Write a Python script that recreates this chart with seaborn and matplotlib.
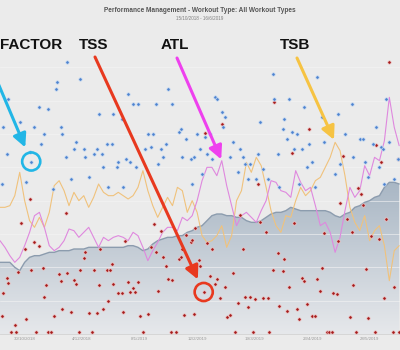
import numpy as np
import pandas as pd
import matplotlib
matplotlib.use("Agg")
import matplotlib.pyplot as plt
import seaborn as sns
from matplotlib.colors import LinearSegmentedColormap

# ---------------- data ----------------
title = "Performance Management - Workout Type: All Workout Types"
subtitle = "15/10/2018 - 16/6/2019"
start_date = "2018-10-15"

# fitness lines, sampled every 3 days from the start date
line_days = list(range(0, 244, 3))
ctl = [43, 43, 43, 40, 38, 43, 46, 47, 47, 48, 49, 49, 50, 50, 50, 51, 51, 51, 52, 52,
       52, 52, 52, 52, 52, 52, 53, 53, 52, 50, 51, 54, 56, 57, 58, 58, 59, 59, 61, 62,
       64, 65, 68, 71, 72, 72, 71, 71, 70, 70, 68, 67, 67, 68, 70, 72, 73, 73, 74, 76,
       75, 74, 74, 74, 74, 74, 74, 73, 71, 70, 72, 73, 76, 77, 79, 80, 82, 83, 88, 91,
       91, 90]
atl = [56, 52, 47, 43, 46, 53, 61, 71, 73, 64, 53, 50, 52, 56, 63, 62, 58, 61, 64, 58,
       52, 58, 56, 58, 59, 58, 56, 61, 59, 52, 44, 50, 55, 61, 64, 64, 62, 70, 68, 71,
       80, 92, 100, 100, 95, 104, 89, 77, 65, 71, 73, 70, 67, 74, 80, 92, 91, 86, 85, 82,
       98, 91, 86, 88, 77, 65, 67, 61, 49, 58, 74, 88, 82, 86, 101, 95, 106, 104, 116, 142,
       124, 113]
tsb = [76, 76, 77, 83, 97, 80, 68, 64, 70, 64, 73, 89, 92, 86, 77, 85, 80, 83, 76, 82,
       90, 85, 83, 83, 85, 83, 81, 83, 88, 98, 86, 77, 70, 76, 82, 77, 88, 86, 73, 80,
       73, 59, 55, 56, 59, 65, 52, 59, 80, 86, 103, 97, 106, 101, 88, 74, 65, 61, 71, 70,
       80, 88, 83, 86, 92, 94, 100, 106, 115, 110, 95, 76, 67, 62, 71, 56, 62, 65, 53, 32,
       50, 53]

# workouts: day offset, TSS
tss_day = [1, 2, 4, 5, 7, 9, 10, 11, 13, 15, 16, 18, 19, 21, 22, 24, 26, 27, 28, 29,
           31, 33, 36, 37, 38, 40, 41, 43, 45, 46, 48, 49, 51, 52, 54, 56, 57, 59, 60, 61,
           63, 65, 66, 67, 68, 69, 72, 74, 75, 76, 78, 79, 81, 82, 84, 85, 87, 90, 92, 94,
           95, 96, 98, 99, 101, 102, 104, 105, 107, 109, 110, 111, 112, 113, 116, 117, 118, 119, 121, 122,
           124, 125, 126, 128, 129, 131, 132, 134, 135, 137, 138, 140, 142, 143, 145, 146, 148, 149, 151, 152,
           154, 155, 157, 158, 160, 162, 163, 164, 166, 167, 169, 170, 172, 173, 175, 176, 178, 179, 181, 182,
           184, 185, 187, 188, 190, 192, 193, 195, 196, 197, 199, 200, 202, 203, 205, 206, 207, 209, 211, 213,
           214, 215, 217, 218, 220, 221, 223, 224, 226, 228, 229, 231, 232, 234, 235, 237, 239, 240, 242, 243]
tss = [18, 41, 56, 51, 2, 9, 2, 62, 111, 85, 15, 135, 64, 92, 2, 88, 66, 37, 49, 2,
       2, 18, 60, 53, 25, 121, 61, 22, 54, 50, 2, 64, 76, 82, 21, 2, 64, 21, 49, 85,
       25, 64, 33, 64, 70, 50, 41, 41, 22, 93, 52, 42, 46, 42, 52, 18, 2, 20, 87, 110,
       82, 43, 103, 77, 68, 55, 2, 54, 2, 75, 77, 85, 19, 99, 92, 94, 20, 106, 74, 68,
       42, 201, 91, 58, 85, 50, 55, 36, 210, 47, 17, 19, 61, 2, 31, 119, 85, 37, 27, 37,
       2, 35, 150, 112, 36, 102, 36, 2, 64, 232, 81, 28, 63, 75, 23, 47, 181, 111, 25, 15,
       56, 53, 30, 205, 18, 18, 55, 43, 66, 101, 2, 2, 2, 41, 40, 93, 131, 178, 115, 17,
       102, 49, 2, 146, 140, 129, 65, 16, 98, 2, 189, 95, 172, 36, 115, 272, 2, 47, 175, 2]

# workouts: day offset, intensity factor
if_day = [1, 2, 4, 5, 12, 16, 18, 19, 21, 24, 25, 27, 29, 32, 34, 35, 37, 38, 40, 41,
          43, 45, 46, 49, 51, 52, 54, 57, 59, 60, 62, 63, 65, 66, 68, 69, 71, 72, 74, 75,
          77, 78, 79, 81, 83, 84, 88, 90, 92, 93, 95, 96, 98, 99, 101, 102, 105, 109, 110, 111,
          113, 116, 117, 118, 120, 122, 123, 125, 126, 128, 129, 131, 132, 135, 136, 137, 140, 142, 145, 146,
          148, 149, 151, 152, 156, 157, 158, 160, 163, 166, 167, 169, 170, 172, 173, 175, 176, 178, 179, 181,
          182, 184, 185, 187, 188, 190, 192, 193, 196, 197, 204, 206, 207, 210, 214, 215, 219, 221, 222, 224,
          227, 229, 231, 232, 233, 234, 235, 237, 240, 242]
intensity = [0.60, 0.83, 0.72, 0.94, 0.85, 0.61, 0.73, 0.69, 0.83, 0.91, 0.76, 0.80, 0.90, 0.58, 0.98, 1.01, 0.83, 0.80, 0.71, 1.09,
             0.62, 0.74, 0.77, 1.02, 0.74, 0.71, 0.63, 0.72, 0.74, 0.88, 0.72, 0.67, 0.76, 0.59, 0.76, 0.88, 0.67, 0.69, 0.86, 0.59,
             0.70, 0.96, 0.69, 0.92, 0.67, 0.92, 0.74, 0.80, 0.75, 0.80, 0.92, 0.68, 0.74, 0.71, 0.76, 0.98, 0.92, 0.81, 0.82, 0.71,
             0.78, 0.70, 0.60, 0.71, 0.80, 0.74, 0.64, 0.79, 0.72, 0.80, 0.70, 0.95, 0.94, 0.89, 0.83, 0.87, 0.71, 0.77, 0.65, 0.74,
             0.71, 0.68, 0.62, 0.68, 0.62, 0.72, 0.85, 0.66, 0.62, 1.04, 0.94, 0.72, 0.59, 0.82, 0.86, 0.78, 0.94, 0.81, 0.74, 0.80,
             0.60, 0.74, 0.91, 0.67, 0.76, 0.69, 0.59, 1.03, 0.87, 0.77, 0.64, 0.88, 0.68, 0.80, 0.92, 0.71, 0.78, 0.78, 0.69, 0.63,
             0.76, 0.83, 0.67, 0.75, 0.74, 0.60, 0.94, 0.77, 0.62, 0.70]

tick_days = [15, 50, 85, 120, 155, 190, 225]
tick_labels = ["30/10/2018", "4/12/2018", "8/1/2019", "12/2/2019", "19/3/2019", "23/4/2019", "28/5/2019"]

# callouts
callout_labels = ["FACTOR", "TSS", "ATL", "TSB"]
circled_if_day = 19
circled_tss_day = 124
atl_peak_day = 135
tsb_peak_day = 204

# ---------------- style ----------------
BG = "#ebebeb"
sns.set_style("white", {"axes.facecolor": BG, "figure.facecolor": BG})
plt.rcParams["font.family"] = ["Liberation Sans", "DejaVu Sans"]

pmc = pd.DataFrame({"day": line_days, "CTL": ctl, "ATL": atl, "TSB": tsb})
wk_tss = pd.DataFrame({"day": tss_day, "TSS": tss})
wk_if = pd.DataFrame({"day": if_day, "IF": intensity})

fig = plt.figure(figsize=(4, 3.5), dpi=100)
fig.patch.set_facecolor(BG)
ax = fig.add_axes([0, 16 / 350, 1, 274 / 350])
ax.set_facecolor(BG)

# CTL gradient fill
poly = ax.fill_between(pmc["day"], pmc["CTL"], 0, facecolor="none", edgecolor="none")
cmap = LinearSegmentedColormap.from_list("ctl", ["#e6e8eb", "#a8b6c4"])
grad = np.linspace(0, 1, 256).reshape(-1, 1)
im = ax.imshow(grad, aspect="auto", origin="lower", cmap=cmap,
               extent=[0, 243.5, 0, 92], zorder=1)
im.set_clip_path(poly.get_paths()[0], transform=ax.transData)
ax.set_xlim(0, 243.5)
ax.set_ylim(0, 164.4)

ax.set_yticks(np.arange(20, 164, 20))
ax.yaxis.grid(True, color="#f4f4f4", lw=0.6, alpha=0.7)
ax.set_axisbelow("line")

sns.lineplot(data=pmc, x="day", y="CTL", ax=ax, color="#8c9cae", lw=1.0, zorder=3)
sns.lineplot(data=pmc, x="day", y="TSB", ax=ax, color="#f0c27c", lw=0.8, zorder=3)
sns.lineplot(data=pmc, x="day", y="ATL", ax=ax, color="#df88de", lw=0.8, zorder=3)

ax.set_xticks(tick_days)
ax.set_xticklabels(tick_labels, fontsize=3.2, color="#9a9a9a")
ax.tick_params(axis="x", length=0, pad=2)
ax.tick_params(axis="y", length=0, labelleft=False)
ax.set_xlabel("")
ax.set_ylabel("")
for s in ["top", "left", "right"]:
    ax.spines[s].set_visible(False)
ax.spines["bottom"].set_color("#d2d2d2")
ax.spines["bottom"].set_linewidth(0.6)

# TSS and IF dots on their own hidden scales
ax_tss = ax.twinx()
ax_tss.set_ylim(0, 274)
sns.scatterplot(data=wk_tss, x="day", y="TSS", ax=ax_tss, color="#a51a1a", s=6,
                edgecolor="#f1cfcf", linewidth=0.5, zorder=4)
ax_if = ax.twinx()
ax_if.set_ylim(0, 1.096)
sns.scatterplot(data=wk_if, x="day", y="IF", ax=ax_if, color="#4d82cf", s=6,
                edgecolor="#cfe0f3", linewidth=0.5, zorder=4)
for a in (ax_tss, ax_if):
    a.set_xlim(0, 243.5)
    a.set_ylabel("")
    a.set_xlabel("")
    a.set_yticks([])
    for s in a.spines.values():
        s.set_visible(False)

# ---------------- annotations ----------------
fig.text(0.5, 1 - 11 / 350, title, ha="center", va="center", fontsize=4.7,
         fontweight="bold", color="#555555")
fig.text(0.5, 1 - 19 / 350, subtitle, ha="center", va="center", fontsize=3.3, color="#808080")

label_x = [0, 79, 161, 280]
for lab, lx in zip(callout_labels, label_x):
    fig.text(lx / 400, 1 - 45 / 350, lab, ha="left", va="center", fontsize=11,
             fontweight="bold", color="#111111")

i_if = if_day.index(circled_if_day)
i_tss = tss_day.index(circled_tss_day)
i_atl = line_days.index(atl_peak_day)
i_tsb = line_days.index(tsb_peak_day)

arrow_specs = [
    ("#22b6e6", (if_day[i_if], intensity[i_if]), ax_if.transData, (-5, 274), 11),
    ("#e8391f", (tss_day[i_tss], tss[i_tss]), ax_tss.transData, (95, 293), 10),
    ("#ee40ee", (line_days[i_atl], atl[i_atl]), ax.transData, (177, 292), 1),
    ("#f6c343", (line_days[i_tsb], tsb[i_tsb]), ax.transData, (297, 292), 2),
]
for col, xy, trans, start, shrink in arrow_specs:
    ax_if.annotate("", xy=xy, xycoords=trans, xytext=start, textcoords="figure pixels",
                   annotation_clip=False,
                   arrowprops=dict(arrowstyle="-|>", color=col, lw=2.2,
                                   mutation_scale=20, shrinkA=0, shrinkB=shrink),
                   zorder=10)

ax_if.scatter([if_day[i_if]], [intensity[i_if]], s=170, facecolors="none",
              edgecolors="#22b6e6", linewidths=1.9, zorder=10)
ax_tss.scatter([tss_day[i_tss]], [tss[i_tss]], s=170, facecolors="none",
               edgecolors="#e8391f", linewidths=1.9, zorder=10)

fig.savefig("out.png", dpi=100, facecolor=BG)
